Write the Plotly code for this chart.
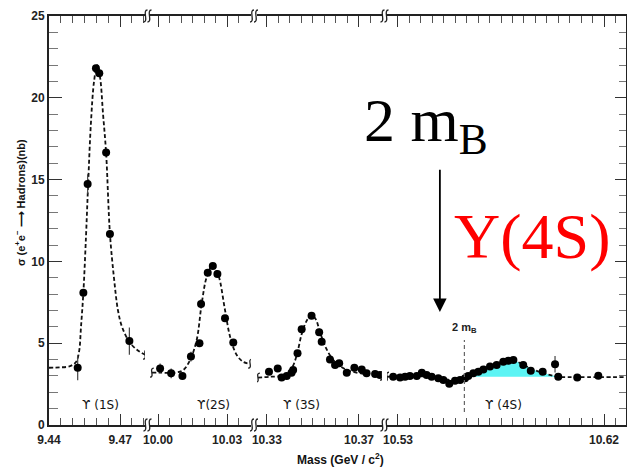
import plotly.graph_objects as go

# ---------------- data ----------------
SEG_TICKS = [[9.44, 9.47], [10.00, 10.03], [10.33, 10.37], [10.53, 10.62]]
SEG_TICKTEXT = [["9.44", "9.47"], ["10.00", "10.03"], ["10.33", "10.37"], ["10.53", "10.62"]]
SEG_RANGES = [[9.44, 9.4805], [9.9965, 10.0404], [10.3257, 10.38], [10.5252, 10.6296]]
SEG_DOMAINS = [[0.0, 0.1664], [0.1750, 0.3501], [0.3605, 0.5771], [0.5858, 1.0]]
MINOR_STEP = 0.005

# Upsilon(1S)
m1 = [9.4521, 9.4545, 9.4563, 9.4598, 9.4612, 9.4641, 9.4657, 9.4739]
s1 = [3.5, 8.09, 14.73, 21.8, 21.5, 16.65, 11.67, 5.13]
e1 = [0.76, 0.2, 0.6, 0.2, 0.2, 0.2, 0.2, 0.83]
fit1_m = [9.4400, 9.4446, 9.4489, 9.4514, 9.4527, 9.4535, 9.4545, 9.4556, 9.4565, 9.4577,
          9.4590, 9.4603, 9.4615, 9.4628, 9.4641, 9.4657, 9.4674, 9.4691, 9.4708, 9.4738,
          9.4771, 9.4805]
fit1_s = [3.5, 3.52, 3.6, 3.85, 4.5, 6.0, 8.1, 11.5, 14.7, 18.5,
          21.0, 22.0, 21.3, 19.0, 16.6, 11.7, 9.0, 7.0, 6.0, 5.1,
          4.6, 4.3]

# Upsilon(2S)
m2 = [10.0009, 10.0057, 10.0106, 10.0143, 10.0180, 10.0187, 10.0216, 10.0238, 10.0258, 10.0291, 10.0327]
s2 = [3.46, 3.16, 2.99, 4.18, 4.99, 7.40, 9.31, 9.72, 9.23, 6.52, 5.05]
e2 = [0.3, 0.3, 0.15, 0.3, 0.2, 0.3, 0.15, 0.15, 0.15, 0.2, 0.2]
fit2_m = [9.9973, 10.0009, 10.0074, 10.0109, 10.0139, 10.0168, 10.0190, 10.0212, 10.0238,
          10.0262, 10.0291, 10.0313, 10.0342, 10.0371, 10.0400]
fit2_s = [3.2, 3.2, 3.2, 3.35, 3.97, 5.2, 7.44, 9.07, 9.78,
          9.17, 7.03, 5.4, 4.28, 3.85, 3.75]

# Upsilon(3S)
m3 = [10.3309, 10.3347, 10.3364, 10.3386, 10.3407, 10.3414, 10.3433, 10.3451, 10.3494, 10.3527,
      10.3538, 10.3574, 10.3596, 10.3614, 10.3647, 10.3680, 10.3712, 10.3733, 10.3770, 10.3791]
s3 = [3.26, 3.46, 2.91, 3.0, 3.2, 3.36, 4.38, 5.85, 6.68, 5.67,
      5.09, 4.01, 3.67, 3.77, 3.2, 3.5, 3.4, 3.16, 3.12, 3.06]
e3 = [0.2, 0.2, 0.2, 0.2, 0.2, 0.2, 0.15, 0.15, 0.15, 0.15,
      0.15, 0.15, 0.15, 0.15, 0.15, 0.15, 0.15, 0.15, 0.15, 0.15]
fit3_m = [10.3261, 10.3313, 10.3378, 10.3409, 10.3430, 10.3452, 10.3474, 10.3494, 10.3513,
          10.3530, 10.3557, 10.3587, 10.3617, 10.3661, 10.3726, 10.3800]
fit3_s = [2.9, 2.95, 3.05, 3.5, 4.3, 5.6, 6.4, 6.72, 6.45,
          5.7, 4.7, 4.0, 3.6, 3.3, 3.12, 3.02]

# Upsilon(4S) region
m4 = [10.5279, 10.5309, 10.5331, 10.5352, 10.5382, 10.5404, 10.5425, 10.5447, 10.5476, 10.5498,
      10.5524, 10.5549, 10.5571, 10.5593, 10.5607, 10.5629, 10.5651, 10.5673, 10.5702, 10.5731,
      10.5760, 10.5782, 10.5804, 10.5847, 10.5880, 10.5932, 10.5986, 10.6000, 10.6083, 10.6175]
s4 = [2.95, 2.91, 2.95, 3.0, 3.0, 3.2, 3.06, 2.95, 2.85, 2.75,
      2.52, 2.71, 2.75, 2.85, 3.0, 3.16, 3.26, 3.40, 3.57, 3.67,
      3.87, 3.93, 3.97, 3.67, 3.32, 3.26, 3.71, 2.95, 2.91, 3.01]
e4 = [0.1] * 26 + [0.5, 0.1, 0.1, 0.1]
fit4_m = [10.5252, 10.5352, 10.5440, 10.5505, 10.5549, 10.5580, 10.5597, 10.5623, 10.5658,
          10.5702, 10.5746, 10.5789, 10.5824, 10.5859, 10.5899, 10.5942, 10.5999, 10.6095, 10.6296]
fit4_s = [2.95, 2.98, 2.95, 2.8, 2.72, 2.8, 2.95, 3.2, 3.45,
          3.68, 3.85, 3.97, 3.85, 3.6, 3.35, 3.15, 2.95, 2.93, 2.93]

CONTINUUM = 2.95
M2B = 10.559
PEAK_LABELS = ["ϒ (1S)", "ϒ(2S)", "ϒ (3S)", "ϒ (4S)"]
PEAK_LABEL_M = [9.4619, 10.0239, 10.3452, 10.5763]
PEAK_LABEL_S = 1.2
Y_TICKS = [0, 5, 10, 15, 20, 25]
Y_MINOR = list(range(0, 26))

# ---------------- figure ----------------
L, R, T, B = 49, 1, 16, 43
W, H = 627, 468
PW, PH = W - L - R, H - T - B

fig = go.Figure()

axes = ["x", "x2", "x3", "x4"]
datasets = [(m1, s1, e1, fit1_m, fit1_s), (m2, s2, e2, fit2_m, fit2_s),
            (m3, s3, e3, fit3_m, fit3_s), (m4, s4, e4, fit4_m, fit4_s)]

# cyan fill for 4S above continuum
fm = [m for m in fit4_m if M2B <= m <= 10.6]
fs = [s for m, s in zip(fit4_m, fit4_s) if M2B <= m <= 10.6]
fig.add_trace(go.Scatter(x=fm + fm[::-1], y=fs + [CONTINUUM] * len(fm), xaxis="x4", yaxis="y",
                         fill="toself", fillcolor="#5CF4F4", line=dict(width=0),
                         mode="lines", hoverinfo="skip", showlegend=False))

for ax, (m, s, e, fmm, fss) in zip(axes, datasets):
    fig.add_trace(go.Scatter(x=fmm, y=fss, xaxis=ax, yaxis="y", mode="lines",
                             line=dict(color="#111", width=1.8, dash="4px,2.5px", shape="spline"),
                             showlegend=False, hoverinfo="skip"))
    fig.add_trace(go.Scatter(x=m, y=s, xaxis=ax, yaxis="y", mode="markers",
                             marker=dict(color="black", size=8),
                             error_y=dict(type="data", array=e, width=0, thickness=1.2, color="#444"),
                             showlegend=False))

# dummy for right axis
fig.add_trace(go.Scatter(x=[], y=[], xaxis="x4", yaxis="y2", showlegend=False))

tickfont = dict(family="Liberation Sans, Arial", size=12, color="#222", weight="bold")
for i, ax in enumerate(axes):
    key = "xaxis" if i == 0 else f"xaxis{i+1}"
    lo, hi = SEG_RANGES[i]
    start = SEG_TICKS[i][0]
    k0 = int((lo - start) / MINOR_STEP) - 1
    k1 = int((hi - start) / MINOR_STEP) + 1
    minor_vals = [round(start + k * MINOR_STEP, 4) for k in range(k0, k1 + 1)
                  if lo <= start + k * MINOR_STEP <= hi]
    fig.layout[key] = dict(
        domain=SEG_DOMAINS[i], range=SEG_RANGES[i], anchor="y", automargin=False,
        tickmode="array", tickvals=SEG_TICKS[i], ticktext=SEG_TICKTEXT[i],
        ticks="inside", ticklen=11, tickwidth=1.2, tickcolor="#333", ticklabelstandoff=3,
        minor=dict(tickmode="array", tickvals=minor_vals,
                   ticks="inside", ticklen=7, tickwidth=1, tickcolor="#555"),
        showline=True, linewidth=2, linecolor="#222", mirror="ticks",
        showgrid=False, zeroline=False, tickfont=tickfont, fixedrange=True)

fig.update_layout(
    yaxis=dict(range=[0, 25], anchor="x", tickvals=Y_TICKS, ticks="inside", ticklen=13,
               tickwidth=1.2, tickcolor="#333", automargin=False,
               minor=dict(tickmode="array", tickvals=Y_MINOR, ticks="inside", ticklen=9,
                          tickwidth=1, tickcolor="#777"),
               showline=True, linewidth=2, linecolor="#222", showgrid=False, zeroline=False,
               tickfont=tickfont),
    yaxis2=dict(range=[0, 25], overlaying="y", side="right", anchor="x4", tickvals=Y_TICKS,
                ticks="inside", ticklen=11, tickwidth=1.2, tickcolor="#333", showticklabels=False,
                automargin=False,
                minor=dict(tickmode="array", tickvals=Y_MINOR, ticks="inside", ticklen=7,
                           tickwidth=1, tickcolor="#777"),
                showline=True, linewidth=2, linecolor="#222", showgrid=False, zeroline=False),
    width=W, height=H, margin=dict(l=L, r=R, t=T, b=B, autoexpand=False),
    paper_bgcolor="white", plot_bgcolor="white", showlegend=False,
)

shapes = []


def squig(xref, xa, yref, ya, dx=0, h=10, w=4):
    x0, x1 = dx - w / 2, dx + w / 2
    path = (f"M {x0},{-h/2} C {x1+1.5},{-h/2} {x0-1.5},{h/2} {x1},{h/2}")
    return dict(type="path", xref=xref, yref=yref, xsizemode="pixel", ysizemode="pixel",
                xanchor=xa, yanchor=ya, path=path, line=dict(color="#222", width=1.3))


# axis break marks (bottom and top)
for i in range(3):
    mid = (SEG_DOMAINS[i][1] + SEG_DOMAINS[i + 1][0]) / 2
    for ya in (0, 1):
        shapes.append(squig("paper", mid, "paper", ya, dx=-2, h=12))
        shapes.append(squig("paper", mid, "paper", ya, dx=2, h=12))

# curve-end marks
for i, (ax, d) in enumerate(zip(axes, datasets)):
    fmm, fss = d[3], d[4]
    if i > 0:
        shapes.append(squig(ax, fmm[0], "y", fss[0], h=9))
    if i < 3:
        shapes.append(squig(ax, fmm[-1], "y", fss[-1], h=9))

# 2 m_B dashed line
shapes.append(dict(type="line", xref="x4", yref="y", x0=M2B, x1=M2B, y0=0.8, y1=5.2,
                   line=dict(color="#666", width=1.2, dash="4px,3px")))
fig.update_layout(shapes=shapes)

ann = []
for lab, m, ax in zip(PEAK_LABELS, PEAK_LABEL_M, axes):
    ann.append(dict(text=lab, x=m, y=PEAK_LABEL_S, xref=ax, yref="y", showarrow=False,
                    xanchor="center", yanchor="middle",
                    font=dict(family="DejaVu Sans, Liberation Sans", size=12, color="#111")))
ann.append(dict(text="2 m<sub>B</sub>", x=M2B, y=5.95, xref="x4", yref="y", showarrow=False,
                xanchor="center", yanchor="middle",
                font=dict(family="Liberation Sans, Arial", size=11, color="#222", weight="bold")))
# big arrow
ann.append(dict(x=10.5483, y=6.9, ax=10.5483, ay=15.7, xref="x4", yref="y", axref="x4", ayref="y",
                text="", showarrow=True, arrowhead=2, arrowsize=1.5, arrowwidth=1.8,
                arrowcolor="black"))
ann.append(dict(text="2 m<sub>B</sub>", x=(362 - L) / PW, y=(H - B - 125) / PH, xref="paper",
                yref="paper", xanchor="left", yanchor="middle", showarrow=False,
                font=dict(family="Liberation Serif, Times New Roman", size=62, color="black")))
ann.append(dict(text="Υ(4S)", x=(452 - L) / PW, y=(H - B - 236) / PH, xref="paper",
                yref="paper", xanchor="left", yanchor="middle", showarrow=False,
                font=dict(family="Liberation Serif, Times New Roman", size=64, color="#FF0000")))
# axis titles
ann.append(dict(text="σ (e<sup>+</sup>e<sup>−</sup> ⟶ Hadrons)(nb)", x=(20 - L) / PW,
                y=(H - B - 203) / PH, xref="paper", yref="paper", textangle=-90,
                xanchor="center", yanchor="middle", showarrow=False,
                font=dict(family="Liberation Sans, Arial", size=11, color="#111", weight="bold")))
ann.append(dict(text="Mass (GeV / c<sup>2</sup>)", x=(341 - L) / PW, y=(H - B - 459) / PH,
                xref="paper", yref="paper", showarrow=False, xanchor="center", yanchor="middle",
                font=dict(family="Liberation Sans, Arial", size=12, color="#111", weight="bold")))
fig.update_layout(annotations=ann)

fig.write_html("out.html", config={"displayModeBar": False},
               post_script="document.body.style.margin='0';document.body.style.overflow='hidden';")
